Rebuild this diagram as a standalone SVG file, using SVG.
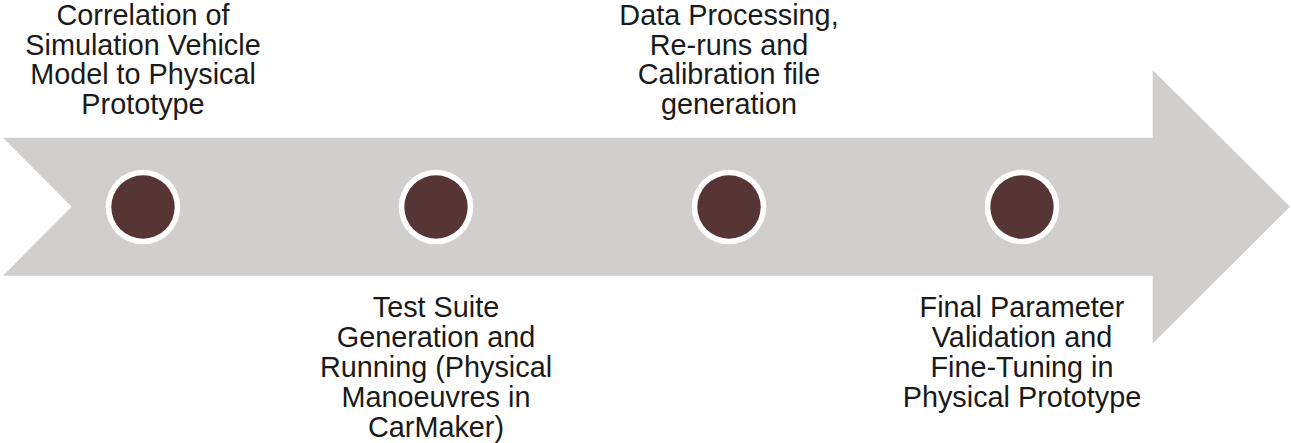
<svg xmlns="http://www.w3.org/2000/svg" width="1291" height="443" viewBox="0 0 1291 443">
<style>
.lbl{font-family:"Liberation Sans",Arial,sans-serif;font-size:28.8px;fill:#1a1a1a;text-anchor:middle}
.ring{fill:#ffffff}
.dot{fill:#583535}
</style>
<rect width="1291" height="443" fill="#ffffff"/>
<g id="arrow">
<polygon points="3,137.7 1152.7,137.7 1152.7,70 1290,206.7 1152.7,343.4 1152.7,275.7 3,275.7 71.7,206.7" fill="#d0cfce"/>
</g>
<g id="node1">
<circle class="ring" cx="143" cy="207" r="37.3"/>
<circle class="dot" cx="143" cy="207" r="31.7"/>
<text class="lbl" x="143"><tspan x="143" y="25">Correlation of</tspan><tspan x="143" y="54.5">Simulation Vehicle</tspan><tspan x="143" y="84">Model to Physical</tspan><tspan x="143" y="113.5">Prototype</tspan></text>
</g>
<g id="node2">
<circle class="ring" cx="436" cy="207" r="37.3"/>
<circle class="dot" cx="436" cy="207" r="31.7"/>
<text class="lbl" x="436"><tspan x="436" y="316.5">Test Suite</tspan><tspan x="436" y="346.5">Generation and</tspan><tspan x="436" y="376.5">Running (Physical</tspan><tspan x="436" y="406.5">Manoeuvres in</tspan><tspan x="436" y="436.5">CarMaker)</tspan></text>
</g>
<g id="node3">
<circle class="ring" cx="729" cy="207" r="37.3"/>
<circle class="dot" cx="729" cy="207" r="31.7"/>
<text class="lbl" x="729"><tspan x="729" y="25">Data Processing,</tspan><tspan x="729" y="54.5">Re-runs and</tspan><tspan x="729" y="84">Calibration file</tspan><tspan x="729" y="113.5">generation</tspan></text>
</g>
<g id="node4">
<circle class="ring" cx="1022" cy="207" r="37.3"/>
<circle class="dot" cx="1022" cy="207" r="31.7"/>
<text class="lbl" x="1022"><tspan x="1022" y="316.5">Final Parameter</tspan><tspan x="1022" y="346.5">Validation and</tspan><tspan x="1022" y="376.5">Fine-Tuning in</tspan><tspan x="1022" y="406.5">Physical Prototype</tspan></text>
</g>
<g id="connectors"></g>
</svg>
